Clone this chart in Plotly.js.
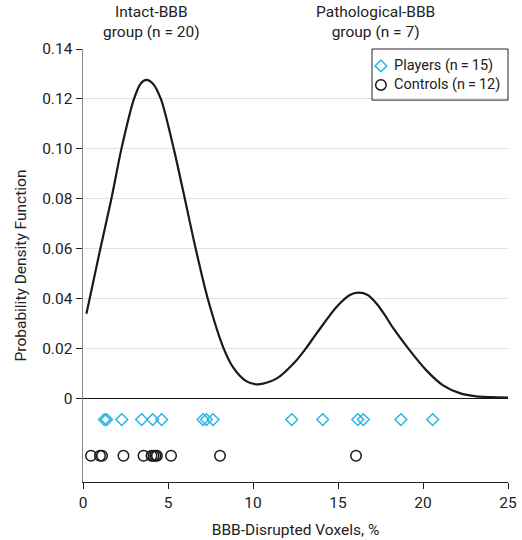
<!DOCTYPE html>
<html>
<head>
<meta charset="utf-8">
<script src="https://cdn.plot.ly/plotly-3.0.1.min.js"></script>
<style>html,body{margin:0;padding:0;background:#fff;}#chart{width:522px;height:540px;}</style>
</head>
<body>
<div id="chart"></div>
<script>
// Density curve
const curveX = [0.2, 0.39, 1.02, 1.67, 2.26, 3.0, 3.4, 3.73, 4.1, 4.58, 5.34, 5.99, 6.63, 7.34, 8.28, 8.82, 9.6, 10.3, 11.38, 12.55, 13.1, 13.73, 14.9, 15.7, 16.18, 16.75, 17.3, 17.75, 18.24, 19.22, 20.2, 21.18, 22.16, 23.14, 24.0, 25.0];
const curveDensity = [0.034, 0.040, 0.060, 0.080, 0.100, 0.120, 0.1262, 0.1276, 0.1262, 0.120, 0.100, 0.080, 0.060, 0.040, 0.020, 0.0126, 0.007, 0.0057, 0.008, 0.0153, 0.020, 0.026, 0.0366, 0.0415, 0.0424, 0.0415, 0.0378, 0.0335, 0.0283, 0.0193, 0.0113, 0.0053, 0.0022, 0.0009, 0.0006, 0.0004];

// Individual subjects (BBB-disrupted voxels, %)
const players = [1.26, 1.39, 2.28, 3.45, 4.1, 4.63, 7.06, 7.26, 7.65, 12.28, 14.1, 16.16, 16.49, 18.7, 20.57];
const controls = [0.47, 1.0, 1.12, 2.38, 3.56, 4.03, 4.15, 4.26, 4.35, 5.18, 8.06, 16.06];
const playersRowY = -0.0084;
const controlsRowY = -0.0229;

const yTicks = [0, 0.02, 0.04, 0.06, 0.08, 0.10, 0.12, 0.14];
const yTickText = ["0", "0.02", "0.04", "0.06", "0.08", "0.10", "0.12", "0.14"];
const xTicks = [0, 5, 10, 15, 20, 25];

const groupLabels = ["Intact-BBB<br>group (n = 20)", "Pathological-BBB<br>group (n = 7)"];
const groupLabelX = [4.05, 17.2];
const seriesNames = ["Players (n\u2009=\u200915)", "Controls (n\u2009=\u200912)"];

const FONT = "Roboto, 'Noto Sans', sans-serif";
const FS = 15.5;
const LFS = 14.5;
const cyan = "#2AB4E4";
const ink = "#1a1a1a";

const playerMarker = {symbol: "diamond-open", size: 9, color: cyan, line: {width: 1.5, color: cyan}};
const controlMarker = {symbol: "circle-open", size: 10.5, color: ink, line: {width: 1.5, color: ink}};

// legend placement (paper / overlay-axis fractions)
const legX0 = 0.68, legY0 = 0.882, symX = 0.701, txtX = 0.727, rowY = [0.961, 0.917];

const traces = [
  {x: curveX, y: curveDensity, mode: "lines", line: {color: ink, width: 2.2, shape: "spline", smoothing: 0.8}, hoverinfo: "skip"},
  {x: players, y: players.map(() => playersRowY), mode: "markers", marker: playerMarker},
  {x: controls, y: controls.map(() => controlsRowY), mode: "markers", marker: controlMarker},
  // legend symbols on an invisible overlay axis
  {x: [symX], y: [rowY[0]], xaxis: "x2", yaxis: "y2", mode: "markers", marker: playerMarker},
  {x: [symX], y: [rowY[1]], xaxis: "x2", yaxis: "y2", mode: "markers", marker: controlMarker}
];

const annotations = groupLabels.map((t, i) => ({text: t, x: groupLabelX[i], xref: "x", y: 1, yref: "paper",
    yanchor: "bottom", yshift: 6, showarrow: false, font: {size: FS, color: "#222"}, align: "center"}));
seriesNames.forEach((t, i) => annotations.push({text: t, x: txtX, xref: "paper", y: rowY[i], yref: "paper",
    xanchor: "left", yanchor: "middle", showarrow: false, font: {size: LFS, color: "#222"}}));

const layout = {
  width: 522, height: 540,
  margin: {l: 83, r: 14, t: 49, b: 58},
  paper_bgcolor: "#fff", plot_bgcolor: "#fff",
  showlegend: false,
  font: {family: FONT, size: FS, color: "#222"},
  xaxis: {range: [0, 25], tickvals: xTicks, ticks: "outside", ticklen: 6, tickcolor: "#222",
    showline: true, linecolor: "#222", linewidth: 1.2, showgrid: false, zeroline: false,
    tickfont: {size: FS}, title: {text: "BBB-Disrupted Voxels, %", font: {size: FS}, standoff: 13}},
  yaxis: {range: [-0.0334, 0.14], tickvals: yTicks, ticktext: yTickText, ticks: "outside", ticklen: 6, tickcolor: "#222",
    showline: true, linecolor: "#888", linewidth: 1.5, showgrid: true, gridcolor: "#e2e2e2", gridwidth: 1,
    zeroline: true, zerolinecolor: "#111", zerolinewidth: 1.5,
    tickfont: {size: FS}, title: {text: "Probability Density Function", font: {size: FS}, standoff: 11}},
  xaxis2: {overlaying: "x", range: [0, 1], visible: false, fixedrange: true},
  yaxis2: {overlaying: "y", range: [0, 1], visible: false, fixedrange: true},
  shapes: [{type: "rect", xref: "paper", yref: "paper", x0: legX0, x1: 1, y0: legY0, y1: 1,
    line: {color: "#222", width: 1}, fillcolor: "rgba(0,0,0,0)", layer: "above"}],
  annotations: annotations
};

Plotly.newPlot("chart", traces, layout, {displayModeBar: false, staticPlot: true});
</script>
</body>
</html>
